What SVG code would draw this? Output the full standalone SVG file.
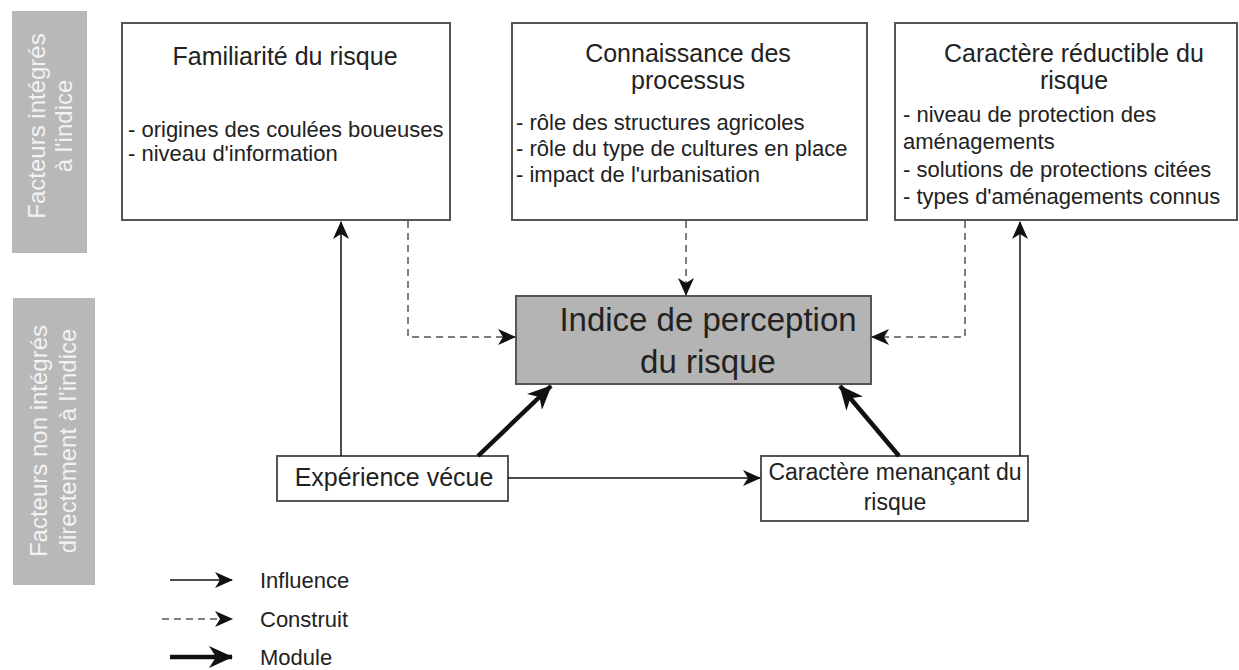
<svg xmlns="http://www.w3.org/2000/svg" width="1239" height="670" viewBox="0 0 1239 670">
<style>
text{font-family:"Liberation Sans",Arial,sans-serif;fill:#222}
.box{fill:#fff;stroke:#555;stroke-width:2}
.band{fill:#b8b8b8}
.bandt{fill:#f2f2f2;font-size:24px;text-anchor:middle}
.title{font-size:25px;text-anchor:middle}
.item{font-size:22px}
.inf{stroke:#111;stroke-width:1.5;fill:none}
.con{stroke:#555;stroke-width:1.5;fill:none;stroke-dasharray:7 5}
.mod{stroke:#111;stroke-width:4.5;fill:none}
.leg{font-size:22px}
</style>
<defs>
<marker id="ah" markerUnits="userSpaceOnUse" markerWidth="18" markerHeight="16" refX="17" refY="8" orient="auto" viewBox="0 0 18 16">
<path d="M0,0 L18,8 L0,16 L5,8 z" fill="#111"/>
</marker>
<marker id="ahb" markerUnits="userSpaceOnUse" markerWidth="24" markerHeight="22" refX="23" refY="11" orient="auto" viewBox="0 0 24 22">
<path d="M0,0 L24,11 L0,22 L7,11 z" fill="#111"/>
</marker>
</defs>
<rect width="1239" height="670" fill="#fff"/>
<g id="band-top">
<rect class="band" x="12" y="11" width="75" height="242"/>
<text class="bandt" transform="translate(45,126) rotate(-90)">Facteurs intégrés</text>
<text class="bandt" transform="translate(72,126) rotate(-90)">à l'indice</text>
</g>
<g id="band-bottom">
<rect class="band" x="13" y="298" width="82" height="287"/>
<text class="bandt" transform="translate(47,441) rotate(-90)">Facteurs non intégrés</text>
<text class="bandt" transform="translate(76,441) rotate(-90)">directement à l'indice</text>
</g>
<g id="familiarite">
<rect class="box" x="122" y="23" width="328" height="197"/>
<text class="title" x="285" y="65">Familiarité du risque</text>
<text class="item" x="128" y="137">- origines des coulées boueuses</text>
<text class="item" x="128" y="161">- niveau d'information</text>
</g>
<g id="connaissance">
<rect class="box" x="512" y="23" width="355" height="197"/>
<text class="title" x="688" y="62">Connaissance des</text>
<text class="title" x="688" y="89">processus</text>
<text class="item" x="516" y="130">- rôle des structures agricoles</text>
<text class="item" x="516" y="156">- rôle du type de cultures en place</text>
<text class="item" x="516" y="182">- impact de l'urbanisation</text>
</g>
<g id="reductible">
<rect class="box" x="895" y="23" width="342" height="197"/>
<text class="title" x="1074" y="62">Caractère réductible du</text>
<text class="title" x="1074" y="89">risque</text>
<text class="item" x="903" y="122">- niveau de protection des</text>
<text class="item" x="903" y="149">aménagements</text>
<text class="item" x="903" y="177">- solutions de protections citées</text>
<text class="item" x="903" y="204">- types d'aménagements connus</text>
</g>
<g id="indice">
<rect x="516" y="296" width="355" height="88" fill="#b4b4b4" stroke="#555" stroke-width="2"/>
<text x="708" y="331" style="font-size:33px;text-anchor:middle">Indice de perception</text>
<text x="708" y="373" style="font-size:33px;text-anchor:middle">du risque</text>
</g>
<g id="experience">
<rect class="box" x="277" y="456" width="231" height="45"/>
<text x="394" y="486" style="font-size:25px;text-anchor:middle">Expérience vécue</text>
</g>
<g id="menacant">
<rect class="box" x="761" y="456" width="267" height="65"/>
<text x="895" y="480" style="font-size:23px;text-anchor:middle">Caractère menançant du</text>
<text x="895" y="510" style="font-size:23px;text-anchor:middle">risque</text>
</g>
<g id="connectors">
<path class="inf" d="M341,456 V222" marker-end="url(#ah)"/>
<path class="inf" d="M1020,456 V222" marker-end="url(#ah)"/>
<path class="inf" d="M508,478 H760" marker-end="url(#ah)"/>
<path class="con" d="M408,221 V337 H515" marker-end="url(#ah)"/>
<path class="con" d="M686,221 V295" marker-end="url(#ah)"/>
<path class="con" d="M965,221 V337 H872" marker-end="url(#ah)"/>
<path class="mod" d="M478,456 L551,386" marker-end="url(#ahb)"/>
<path class="mod" d="M899,456 L840,386" marker-end="url(#ahb)"/>
</g>
<g id="legend">
<path class="inf" d="M170,580 H232" marker-end="url(#ah)"/>
<text class="leg" x="260" y="588">Influence</text>
<path class="con" d="M162,619 H232" marker-end="url(#ah)"/>
<text class="leg" x="260" y="627">Construit</text>
<path class="mod" d="M170,657 H232" marker-end="url(#ahb)"/>
<text class="leg" x="260" y="665">Module</text>
</g>
</svg>
